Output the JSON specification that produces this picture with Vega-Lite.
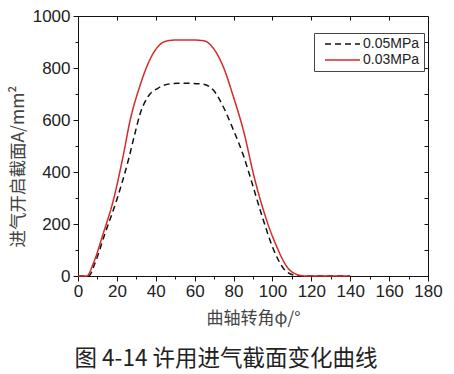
{
  "$schema": "https://vega.github.io/schema/vega-lite/v6.json",
  "width": 350,
  "height": 260,
  "autosize": {"type": "none"},
  "padding": {"left": 78, "top": 16, "right": 26, "bottom": 98},
  "background": "white",
  "config": {
    "view": {"stroke": "#111", "strokeWidth": 1},
    "axis": {"grid": false, "domainColor": "#111", "tickColor": "#111", "labelColor": "#222", "titleColor": "#444", "labelFont": "Liberation Sans", "labelFontSize": 17, "titleFont": "Noto Sans CJK SC", "titleFontWeight": "normal"}
  },
  "title": {"text": "图 4-14 许用进气截面变化曲线", "orient": "bottom", "anchor": "middle", "frame": "group", "font": "Noto Sans CJK SC", "fontSize": 22.5, "fontWeight": "normal", "color": "#222", "offset": 22, "dx": -27},
  "data": {"values": [
    {"angle": 0, "area": 0, "series": "0.05MPa"},
    {"angle": 5.5, "area": 0, "series": "0.05MPa"},
    {"angle": 8.7, "area": 49, "series": "0.05MPa"},
    {"angle": 13.9, "area": 164, "series": "0.05MPa"},
    {"angle": 19.9, "area": 292, "series": "0.05MPa"},
    {"angle": 25.9, "area": 446, "series": "0.05MPa"},
    {"angle": 29, "area": 540, "series": "0.05MPa"},
    {"angle": 32, "area": 625, "series": "0.05MPa"},
    {"angle": 36, "area": 690, "series": "0.05MPa"},
    {"angle": 41.1, "area": 722, "series": "0.05MPa"},
    {"angle": 46.3, "area": 738, "series": "0.05MPa"},
    {"angle": 51.4, "area": 741, "series": "0.05MPa"},
    {"angle": 57.6, "area": 741, "series": "0.05MPa"},
    {"angle": 64.5, "area": 738, "series": "0.05MPa"},
    {"angle": 69.6, "area": 715, "series": "0.05MPa"},
    {"angle": 74.7, "area": 651, "series": "0.05MPa"},
    {"angle": 79.9, "area": 562, "series": "0.05MPa"},
    {"angle": 85, "area": 465, "series": "0.05MPa"},
    {"angle": 89.8, "area": 350, "series": "0.05MPa"},
    {"angle": 95.3, "area": 215, "series": "0.05MPa"},
    {"angle": 100.5, "area": 103, "series": "0.05MPa"},
    {"angle": 105.6, "area": 30, "series": "0.05MPa"},
    {"angle": 110.8, "area": 4, "series": "0.05MPa"},
    {"angle": 115, "area": 0, "series": "0.05MPa"},
    {"angle": 140, "area": 0, "series": "0.05MPa"},
    {"angle": 0, "area": 0, "series": "0.03MPa"},
    {"angle": 4.5, "area": 0, "series": "0.03MPa"},
    {"angle": 7.9, "area": 49, "series": "0.03MPa"},
    {"angle": 13, "area": 164, "series": "0.03MPa"},
    {"angle": 18.2, "area": 292, "series": "0.03MPa"},
    {"angle": 22.8, "area": 446, "series": "0.03MPa"},
    {"angle": 27, "area": 605, "series": "0.03MPa"},
    {"angle": 31.7, "area": 728, "series": "0.03MPa"},
    {"angle": 36.9, "area": 831, "series": "0.03MPa"},
    {"angle": 41.1, "area": 882, "series": "0.03MPa"},
    {"angle": 46.3, "area": 905, "series": "0.03MPa"},
    {"angle": 51.4, "area": 908, "series": "0.03MPa"},
    {"angle": 57.6, "area": 908, "series": "0.03MPa"},
    {"angle": 64.5, "area": 905, "series": "0.03MPa"},
    {"angle": 69.6, "area": 876, "series": "0.03MPa"},
    {"angle": 74.7, "area": 805, "series": "0.03MPa"},
    {"angle": 79.9, "area": 690, "series": "0.03MPa"},
    {"angle": 85, "area": 562, "series": "0.03MPa"},
    {"angle": 91, "area": 369, "series": "0.03MPa"},
    {"angle": 97, "area": 215, "series": "0.03MPa"},
    {"angle": 102.2, "area": 113, "series": "0.03MPa"},
    {"angle": 107.4, "area": 36, "series": "0.03MPa"},
    {"angle": 113.3, "area": 4, "series": "0.03MPa"},
    {"angle": 117, "area": 0, "series": "0.03MPa"},
    {"angle": 140, "area": 0, "series": "0.03MPa"}
  ]},
  "layer": [
    {
      "mark": {"type": "line", "strokeWidth": 1.5, "interpolate": "monotone"},
      "encoding": {
        "x": {"field": "angle", "type": "quantitative", "scale": {"domain": [0, 180], "nice": false},
          "axis": {"orient": "bottom", "values": [0,10,20,30,40,50,60,70,80,90,100,110,120,130,140,150,160,170,180],
            "labelExpr": "datum.value % 20 === 0 ? datum.label : ''",
            "tickSize": {"condition": {"test": "datum.value % 20 === 0", "value": 5}, "value": 3},
            "labelPadding": 2, "labelFlush": false,
            "title": "曲轴转角φ/°", "titleFontSize": 17, "titlePadding": 11}},
        "y": {"field": "area", "type": "quantitative", "scale": {"domain": [0, 1000], "nice": false},
          "axis": {"orient": "left", "values": [0,100,200,300,400,500,600,700,800,900,1000],
            "labelExpr": "datum.value % 200 === 0 ? datum.label : ''",
            "format": "d",
            "tickSize": {"condition": {"test": "datum.value % 200 === 0", "value": 5}, "value": 3},
            "labelPadding": 3, "labelFlush": false,
            "title": "进气开启截面A/mm²", "titleFontSize": 17.5, "titleY": 150, "titleX": -51}},
        "color": {"field": "series", "type": "nominal",
          "scale": {"domain": ["0.05MPa", "0.03MPa"], "range": ["#111111", "#d42a2a"]},
          "legend": {"orient": "none", "legendX": 236, "legendY": 17, "title": null, "strokeColor": "#444", "padding": 4, "rowPadding": 2,
            "labelFont": "Liberation Sans", "labelFontSize": 14, "labelColor": "#222",
            "symbolType": "M0,0H10", "symbolSize": 49, "symbolStrokeWidth": 1.5, "labelOffset": 31}},
        "strokeDash": {"field": "series", "type": "nominal",
          "scale": {"domain": ["0.05MPa", "0.03MPa"], "range": [[6, 4], [1, 0]]}, "legend": null}
      }
    },
    {
      "mark": {"type": "line", "opacity": 0},
      "encoding": {
        "x": {"field": "angle", "type": "quantitative",
          "axis": {"orient": "top", "values": [20,40,60,80,100,120,140,160], "labels": false, "title": null, "tickSize": -4, "domain": false}},
        "y": {"field": "area", "type": "quantitative",
          "axis": {"orient": "right", "values": [100,200,300,400,500,600,700,800,900], "labels": false, "title": null, "tickSize": -4, "domain": false}},
        "detail": {"field": "series"}
      }
    }
  ],
  "resolve": {"axis": {"x": "independent", "y": "independent"}}
}
